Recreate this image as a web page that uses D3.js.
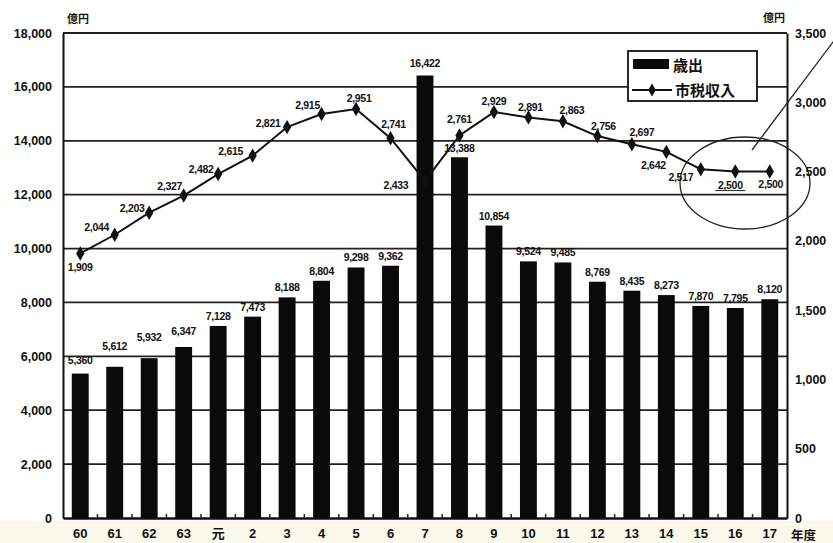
<!DOCTYPE html>
<html><head><meta charset="utf-8">
<script src="https://cdn.jsdelivr.net/npm/d3@7"></script>
<style>
body{margin:0;background:#fff;}
svg{display:block;}
.num{font-family:"Liberation Sans",Arial,sans-serif;font-weight:bold;fill:#111;}
.jp{font-family:"Noto Sans CJK JP",sans-serif;font-weight:bold;fill:#111;}
</style></head>
<body>
<svg id="c" width="833" height="543"></svg>
<script>
const categories = ["60","61","62","63","元","2","3","4","5","6","7","8","9","10","11","12","13","14","15","16","17"];
const expenditure = [5360,5612,5932,6347,7128,7473,8188,8804,9298,9362,16422,13388,10854,9524,9485,8769,8435,8273,7870,7795,8120];
const taxRevenue = [1909,2044,2203,2327,2482,2615,2821,2915,2951,2741,2433,2761,2929,2891,2863,2756,2697,2642,2517,2500,2500];
const leftTicks = [0,2000,4000,6000,8000,10000,12000,14000,16000,18000];
const rightTicks = [0,500,1000,1500,2000,2500,3000,3500];
// label offsets for line values [dx, dy] relative to point
const lineLabelPos = [[0,14],[-18,-8],[-17,-5],[-14,-10],[-17,-5],[-22,-5],[-19,-4],[-14,-9],[3,-11],[3,-14],[-29,4],[0,-16],[0,-11],[2,-10],[9,-11],[6,-10],[10,-12],[-13,13],[-20,8],[-5,13],[1,12]];
// bar label vertical gaps (above bar top)
const barLabelGap = [10,17,17,12,6,6,6,6,6,6,9,5,6,6,6,6,6,6,6,6,6];

const svg = d3.select("#c");
const L = 63, R = 787, T = 33, B = 518;
const x = d3.scaleBand().domain(categories).range([L,R]).paddingInner(0.51).paddingOuter(0.255);
const yL = d3.scaleLinear().domain([0,18000]).range([B,T]);
const yR = d3.scaleLinear().domain([0,3500]).range([B,T]);
const fmt = d3.format(",");

// bottom tint
svg.append("rect").attr("x",0).attr("y",521).attr("width",833).attr("height",22).attr("fill","#fbf8ec");

// gridlines
svg.append("g").selectAll("line").data(leftTicks.filter(d=>d>0)).join("line")
  .attr("x1",L).attr("x2",R).attr("y1",d=>yL(d)).attr("y2",d=>yL(d))
  .attr("stroke","#222").attr("stroke-width",1.8);

// left axis
const gl = svg.append("g").attr("transform",`translate(${L},0)`)
  .call(d3.axisLeft(yL).tickValues(leftTicks).tickFormat(fmt).tickSize(0).tickPadding(11));
gl.select(".domain").attr("stroke","#111").attr("stroke-width",2);
gl.selectAll("text").attr("class","num").attr("font-size",12.5);

// right axis
const gr = svg.append("g").attr("transform",`translate(${R},0)`)
  .call(d3.axisRight(yR).tickValues(rightTicks).tickFormat(fmt).tickSize(0).tickPadding(8));
gr.select(".domain").attr("stroke","#111").attr("stroke-width",2);
gr.selectAll("text").attr("class","num").attr("font-size",12.5);

// bottom axis
const gb = svg.append("g").attr("transform",`translate(0,${B})`)
  .call(d3.axisBottom(x).tickSize(0).tickPadding(11));
gb.select(".domain").attr("stroke","#111").attr("stroke-width",2.5);
gb.selectAll("text").attr("class",d=>d==="元"?"jp":"num").attr("font-size",13);

// small ticks between bars
svg.append("g").selectAll("line").data(categories.slice(1)).join("line")
  .attr("x1",d=>x(d)-x.step()*x.paddingInner()/2).attr("x2",d=>x(d)-x.step()*x.paddingInner()/2)
  .attr("y1",B).attr("y2",B-4).attr("stroke","#222").attr("stroke-width",1.5);

// units
svg.append("text").attr("class","jp").attr("x",67).attr("y",23).attr("font-size",11).text("億円");
svg.append("text").attr("class","jp").attr("x",763).attr("y",22).attr("font-size",11).text("億円");
svg.append("text").attr("class","jp").attr("x",791).attr("y",540).attr("font-size",12.5).text("年度");

// bars
svg.append("g").selectAll("rect").data(expenditure).join("rect")
  .attr("x",(d,i)=>x(categories[i])).attr("width",x.bandwidth())
  .attr("y",d=>yL(d)).attr("height",d=>B-yL(d)).attr("fill","#0a0a0a");

svg.append("g").selectAll("text").data(expenditure).join("text")
  .attr("class","num").attr("font-size",10.5).attr("text-anchor","middle")
  .attr("x",(d,i)=>x(categories[i])+x.bandwidth()/2).attr("y",(d,i)=>yL(d)-barLabelGap[i])
  .attr("letter-spacing",-0.3).text(fmt);

// line
const cx = i => x(categories[i])+x.bandwidth()/2;
svg.append("path").datum(taxRevenue)
  .attr("d",d3.line().x((d,i)=>cx(i)).y(d=>yR(d)))
  .attr("fill","none").attr("stroke","#111").attr("stroke-width",2);
svg.append("g").selectAll("path").data(taxRevenue).join("path")
  .attr("d",d3.symbol(d3.symbolDiamond,60))
  .attr("transform",(d,i)=>`translate(${cx(i)},${yR(d)})`).attr("fill","#111");
svg.append("g").selectAll("text").data(taxRevenue).join("text")
  .attr("class","num").attr("font-size",10.5).attr("text-anchor","middle")
  .attr("letter-spacing",-0.3)
  .attr("x",(d,i)=>cx(i)+lineLabelPos[i][0]).attr("y",(d,i)=>yR(d)+lineLabelPos[i][1]+4)
  .text(fmt);
// underline under the 2,500 label of year 16
const ui = 19;
svg.append("line").attr("x1",cx(ui)+lineLabelPos[ui][0]-15).attr("x2",cx(ui)+lineLabelPos[ui][0]+15)
  .attr("y1",yR(taxRevenue[ui])+lineLabelPos[ui][1]+6).attr("y2",yR(taxRevenue[ui])+lineLabelPos[ui][1]+6)
  .attr("stroke","#222").attr("stroke-width",1);

// legend
const lg = svg.append("g");
lg.append("rect").attr("x",628).attr("y",51).attr("width",129).attr("height",50)
  .attr("fill","#fff").attr("stroke","#111").attr("stroke-width",1.8);
lg.append("rect").attr("x",633).attr("y",59).attr("width",36).attr("height",10).attr("fill","#0a0a0a");
lg.append("text").attr("class","jp").attr("x",673).attr("y",71).attr("font-size",15).text("歳出");
lg.append("line").attr("x1",632).attr("x2",672).attr("y1",90).attr("y2",90).attr("stroke","#111").attr("stroke-width",2);
lg.append("path").attr("d",d3.symbol(d3.symbolDiamond,50)).attr("transform","translate(652,90)").attr("fill","#111");
lg.append("text").attr("class","jp").attr("x",675).attr("y",96).attr("font-size",15).text("市税収入");

// annotation
svg.append("ellipse").attr("cx",745).attr("cy",183).attr("rx",65).attr("ry",46)
  .attr("fill","none").attr("stroke","#222").attr("stroke-width",1.3);
svg.append("line").attr("x1",752).attr("y1",150).attr("x2",836).attr("y2",38)
  .attr("stroke","#222").attr("stroke-width",1.3);
</script>
</body></html>
